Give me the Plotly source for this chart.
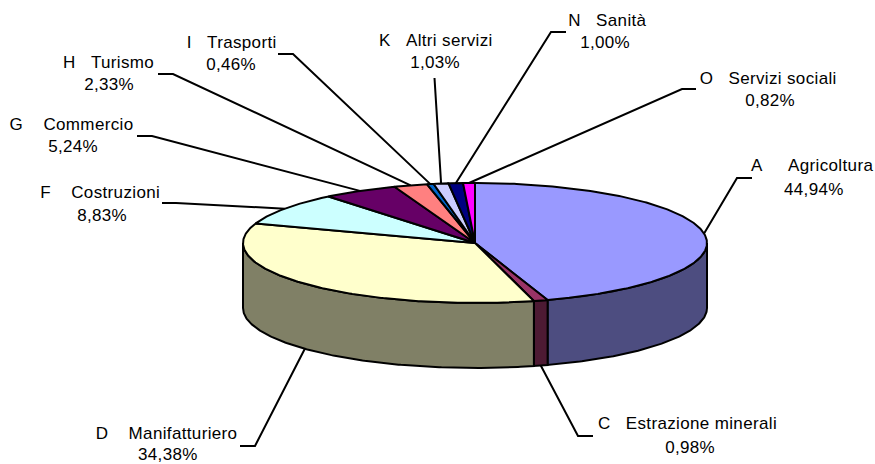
import math
import plotly.graph_objects as go

codes = ["A", "C", "D", "F", "G", "H", "I", "K", "N", "O"]
sectors = ["Agricoltura", "Estrazione minerali", "Manifatturiero", "Costruzioni", "Commercio",
           "Turismo", "Trasporti", "Altri servizi", "Sanità", "Servizi sociali"]
values = [44.94, 0.98, 34.38, 8.83, 5.24, 2.33, 0.46, 1.03, 1.00, 0.82]

top_colors = ["#9999FF", "#993366", "#FFFFCC", "#CCFFFF", "#660066",
              "#FF8080", "#0066CC", "#CCCCFF", "#000080", "#FF00FF"]
side_colors = ["#4D4D80", "#4D1A33", "#808066", "#668080", "#330033",
               "#804040", "#003366", "#666680", "#000040", "#800080"]

# Picture geometry (pixels)
W, H = 875, 464
CX, CY, RX, RY, DEPTH = 475, 243, 232, 60, 65
LW = 2
FONT = dict(family="Liberation Sans, Arial, sans-serif", size=17, color="black")

# Per-label placement: title centre, percent centre, elbow polyline (far end, elbow), word gap
placement = {
    "A": ((812, 165), (814, 189), (752, 178), (737, 178), 5),
    "C": ((687, 423), (690, 447), (593, 436), (578, 436), 3),
    "D": ((166, 433), (168, 454), (240, 446), (255, 446), 4),
    "F": ((100, 192), (102, 215), (162, 203), (176, 203), 4),
    "G": ((71, 124), (73, 146), (137, 136), (152, 136), 4),
    "H": ((108, 62), (109, 84), (158, 74), (173, 74), 3),
    "I": ((231, 42), (231, 64), (278, 54), (293, 54), 3),
    "K": ((436, 40), (435, 62), (434.5, 78), (434.5, 78), 3),
    "N": ((607, 20), (605, 42), (566, 32), (551, 32), 3),
    "O": ((768, 78), (770, 100), (696, 89), (682, 89), 3),
}


def pt(theta, drop=0):
    """Clockwise-from-top angle to picture coordinates."""
    return CX + RX * math.sin(theta), CY - RY * math.cos(theta) + drop


def arc(a, b, drop=0):
    n = max(2, int(abs(b - a) / 0.01))
    return [pt(a + (b - a) * i / n, drop) for i in range(n + 1)]


total = sum(values)
bounds = [0.0]
for v in values:
    bounds.append(bounds[-1] + v / total * 2 * math.pi)


def poly(points, fill):
    return go.Scatter(x=[p[0] for p in points], y=[p[1] for p in points], mode="lines",
                      fill="toself", fillcolor=fill, line=dict(color="black", width=LW),
                      hoverinfo="skip", showlegend=False)


traces = []
# Leader lines behind the pie
mids = [(bounds[i] + bounds[i + 1]) / 2 for i in range(len(values))]
for i, code in enumerate(codes):
    _, _, far, elbow, _ = placement[code]
    front = math.pi / 2 < mids[i] < 3 * math.pi / 2
    start = pt(mids[i], DEPTH if front else 0)
    xs = [far[0], elbow[0], start[0]]
    ys = [far[1], elbow[1], start[1]]
    traces.append(go.Scatter(x=xs, y=ys, mode="lines", line=dict(color="black", width=LW),
                             hoverinfo="skip", showlegend=False))

# Visible walls: the front half of the cylinder
lo, hi = math.pi / 2, 3 * math.pi / 2
for i in range(len(values)):
    a, b = max(bounds[i], lo), min(bounds[i + 1], hi)
    if a < b:
        traces.append(poly(arc(a, b) + arc(b, a, DEPTH) + [pt(a)], side_colors[i]))

# Top faces
for i in range(len(values)):
    traces.append(poly([(CX, CY)] + arc(bounds[i], bounds[i + 1]) + [(CX, CY)], top_colors[i]))

annotations = []
for i, code in enumerate(codes):
    title_pos, pct_pos, _, _, gap = placement[code]
    title = code + "\u00a0" * gap + sectors[i]
    pct = f"{values[i]:.2f}%".replace(".", ",")
    for text, pos in ((title, title_pos), (pct, pct_pos)):
        annotations.append(dict(text=text, x=pos[0], y=pos[1], xref="x", yref="y",
                                showarrow=False, xanchor="center", yanchor="middle", font=FONT))

fig = go.Figure(traces)
fig.update_layout(
    width=W, height=H, margin=dict(l=0, r=0, t=0, b=0),
    paper_bgcolor="white", plot_bgcolor="white", annotations=annotations, showlegend=False,
    xaxis=dict(range=[0, W], visible=False, fixedrange=True),
    yaxis=dict(range=[H, 0], visible=False, fixedrange=True),
)
post = """
document.body.style.margin = '0';
var st = document.createElement('style');
st.textContent = '.annotation-text { letter-spacing: 0.35px; }';
document.head.appendChild(st);
"""
fig.write_html("out.html", config=dict(displayModeBar=False), post_script=post)
